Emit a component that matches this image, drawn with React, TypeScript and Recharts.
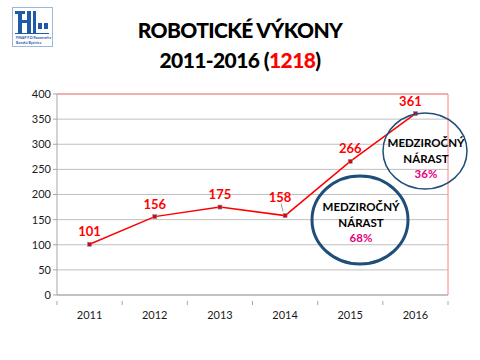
import React from "react";
import { LineChart, Line, XAxis, YAxis, CartesianGrid, ReferenceLine } from "recharts";

const years = ["2011", "2012", "2013", "2014", "2015", "2016"];
const performances = [101, 156, 175, 158, 266, 361];
const yTicks = [0, 50, 100, 150, 200, 250, 300, 350, 400];

const chartData = years.map((year, i) => ({ year, value: performances[i] }));

const FONT = "Lato, 'Open Sans', sans-serif";

// square marker like the Excel one
const SquareDot = (props: any) => {
  const { cx, cy } = props;
  if (cx == null || cy == null) return null;
  return <rect x={cx - 2} y={cy - 2} width={4} height={4} fill="#e00000" stroke="#7f8fb0" strokeWidth={0.6} />;
};

const ValueLabel = (props: any) => {
  const { x, y, value, index } = props;
  // 2014 label sits up-left with a small leader line
  if (index === 3) {
    return (
      <g>
        <line x1={x - 2} y1={y - 4} x2={x - 4} y2={y - 12} stroke="#808080" strokeWidth={0.8} />
        <text x={x - 5} y={y - 14} textAnchor="middle" fill="#ff0000" fontSize={13} fontWeight={700} fontFamily={FONT}>
          {value}
        </text>
      </g>
    );
  }
  const dx = index === 5 ? -5 : 0;
  return (
    <text x={x + dx} y={y - 8} textAnchor="middle" fill="#ff0000" fontSize={13} fontWeight={700} fontFamily={FONT}>
      {value}
    </text>
  );
};

// category label + tick marks on the band edges
const YearTick = (props: any) => {
  const { x, y, payload, index, visibleTicksCount, width } = props;
  const band = width / visibleTicksCount;
  const left = x - band / 2;
  return (
    <g>
      <line x1={left} y1={y - 2} x2={left} y2={y + 2} stroke="#a6a6a6" />
      {index === visibleTicksCount - 1 && (
        <line x1={left + band} y1={y - 2} x2={left + band} y2={y + 2} stroke="#a6a6a6" />
      )}
      <text x={x} y={y + 16} textAnchor="middle" fontSize={11} fill="#1a1a1a" fontFamily={FONT}>
        {payload.value}
      </text>
    </g>
  );
};

function Logo() {
  return (
    <svg width={42} height={42} style={{ position: "absolute", left: 12, top: 7 }}>
      <rect x={0.5} y={0.5} width={40} height={39} fill="#fff" stroke="#9db7d8" strokeWidth={1} />
      <rect x={3} y={4} width={10} height={3} fill="#1d5aa8" />
      <rect x={6} y={4} width={4} height={22} fill="#1d5aa8" />
      <rect x={10} y={13} width={8} height={3} fill="#1d5aa8" />
      <rect x={15} y={4} width={4} height={22} fill="#1d5aa8" />
      <rect x={21} y={4} width={3} height={22} fill="#1d5aa8" />
      <rect x={26} y={16} width={4} height={6} fill="#1d5aa8" />
      <rect x={32} y={16} width={4} height={6} fill="#1d5aa8" />
      <rect x={3} y={26} width={34} height={1} fill="#1d5aa8" />
      <text x={4} y={32} fontSize={3.6} fill="#1d5aa8" fontFamily={FONT} fontWeight={700}>FINAP F.D.Roosevelta</text>
      <text x={4} y={37} fontSize={3.6} fill="#1d5aa8" fontFamily={FONT} fontWeight={700}>Banská Bystrica</text>
    </svg>
  );
}

function Bubble(props: { cx: number; cy: number; rx: number; ry: number; sw: number; ty: number; pct: string }) {
  const { cx, cy, rx, ry, sw, ty, pct } = props;
  return (
    <g>
      <ellipse cx={cx} cy={cy} rx={rx} ry={ry} fill="none" stroke="#1f4e79" strokeWidth={sw} />
      <text x={cx + 1} y={ty + 4} textAnchor="middle" fontSize={11.5} fontWeight={700} fill="#000" fontFamily={FONT}>MEDZIROČNÝ</text>
      <text x={cx + 1} y={ty + 20} textAnchor="middle" fontSize={11.5} fontWeight={700} fill="#000" fontFamily={FONT}>NÁRAST</text>
      <text x={cx + 1} y={ty + 35} textAnchor="middle" fontSize={11.5} fontWeight={700} fill="#e6007e" fontFamily={FONT}>{pct}</text>
    </g>
  );
}

export default function App() {
  return (
    <div style={{ position: "absolute", left: 0, top: 0, width: 480, height: 360, background: "#fff", overflow: "hidden" }}>
      <Logo />
      <div style={{ position: "absolute", left: 0, top: 15, width: 480, textAlign: "center", fontFamily: FONT, fontWeight: 900, fontSize: 21, letterSpacing: -0.6, lineHeight: "30px", color: "#000" }}>
        <div>ROBOTICKÉ VÝKONY</div>
        <div>
          2011-2016 (<span style={{ color: "#ff0000" }}>1218</span>)
        </div>
      </div>
      <div style={{ position: "absolute", left: 0, top: 0 }}>
        <LineChart width={480} height={360} data={chartData} margin={{ top: 94, right: 32, bottom: 35, left: 0 }}>
          <CartesianGrid vertical={false} stroke="#bfbfbf" strokeWidth={1} />
          <XAxis
            dataKey="year"
            scale="band"
            stroke="#a6a6a6"
            tickLine={false}
            height={30}
            tick={<YearTick />}
            interval={0}
          />
          <YAxis
            width={57}
            domain={[0, 400]}
            ticks={yTicks}
            stroke="#a6a6a6"
            tickSize={4}
            tick={{ fontSize: 11, fill: "#1a1a1a", fontFamily: FONT }}
          />
          <ReferenceLine y={400} stroke="#ff8080" strokeWidth={1} />
          <Line
            type="linear"
            dataKey="value"
            stroke="#ff0000"
            strokeWidth={1.5}
            dot={<SquareDot />}
            activeDot={false}
            label={<ValueLabel />}
            isAnimationActive={false}
          />
        </LineChart>
      </div>
      <svg width={480} height={360} style={{ position: "absolute", left: 0, top: 0, pointerEvents: "none" }}>
        <line x1={448} y1={94} x2={448} y2={295} stroke="#ff8080" strokeWidth={1} />
        <Bubble cx={360} cy={220} rx={48} ry={44} sw={3} ty={207} pct="68%" />
        <Bubble cx={425} cy={151} rx={42} ry={38} sw={1.5} ty={143} pct="36%" />
      </svg>
    </div>
  );
}
